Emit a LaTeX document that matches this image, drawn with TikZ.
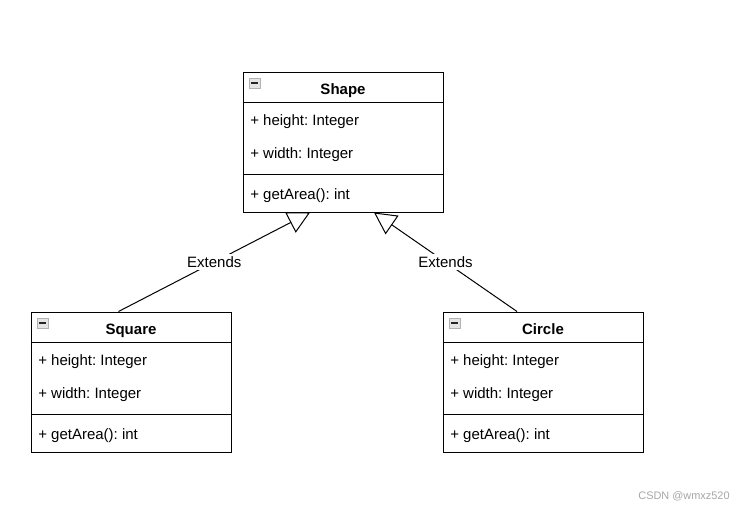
\documentclass[tikz,border=0pt]{standalone}
\usepackage{fontspec}
\setmainfont{Liberation Sans}
\usetikzlibrary{arrows.meta}
\frenchspacing

\tikzset{
  classbox/.style={rectangle, draw=black, line width=0.75pt, fill=white, minimum width=150pt, minimum height=105pt, inner sep=0pt},
  classtitle/.style={anchor=base, inner sep=0pt, font=\fontsize{11.25}{13}\selectfont\bfseries},
  member/.style={anchor=base west, inner sep=0pt, font=\fontsize{11.25}{13}\selectfont},
  iconbox/.style={rectangle, draw=gray!60, fill=gray!20, minimum width=8pt, minimum height=7.5pt, inner sep=0pt, line width=0.5pt},
  extends/.style={line width=0.75pt, -{Triangle[open, length=16.5pt, width=17pt]}},
  edgelabel/.style={fill=white, inner sep=1.5pt, font=\fontsize{11.25}{13}\selectfont}
}

\begin{document}
\begin{tikzpicture}[x=0.75pt, y=-0.75pt]
  \useasboundingbox (0,0) rectangle (754,511);
  % the three classes
  \foreach \nm/\ttl/\x/\y in {shape/Shape/243/72, square/Square/31/312, circle/Circle/443/312} {
    \node[classbox] (\nm) at (\x+100, \y+70) {};
    \draw[line width=0.75pt] (\nm.north west) ++(0,31) -- ++(200,0);
    \draw[line width=0.75pt] (\nm.north west) ++(0,102.5) -- ++(200,0);
    \node[iconbox] (\nm-icon) at (\x+11.5, \y+11) {};
    \draw[gray!30!black, line width=1pt] ([shift={(-3.5,0)}]\nm-icon.center) -- ([shift={(3.5,0)}]\nm-icon.center);
    \node[classtitle] (\nm-title) at (\x+100, \y+22) {\ttl};
    \node[member] (\nm-height) at (\x+7, \y+53) {+ height: Integer};
    \node[member] (\nm-width) at (\x+7, \y+86) {+ width: Integer};
    \node[member] (\nm-area) at (\x+7, \y+127.5) {+ getArea(): int};
  }
  % inheritance
  \draw[extends] ([shift={(-12.5,0)}]square.north) -- node[edgelabel] {Extends} ([shift={(-33,0)}]shape.south);
  \draw[extends] ([shift={(-26,0)}]circle.north) -- node[edgelabel] {Extends} ([shift={(31,0)}]shape.south);
  \node[text=gray!70, inner sep=0pt, font=\fontsize{8.2}{9}\selectfont] (mark) at (684,496) {CSDN @wmxz520};
\end{tikzpicture}
\end{document}
